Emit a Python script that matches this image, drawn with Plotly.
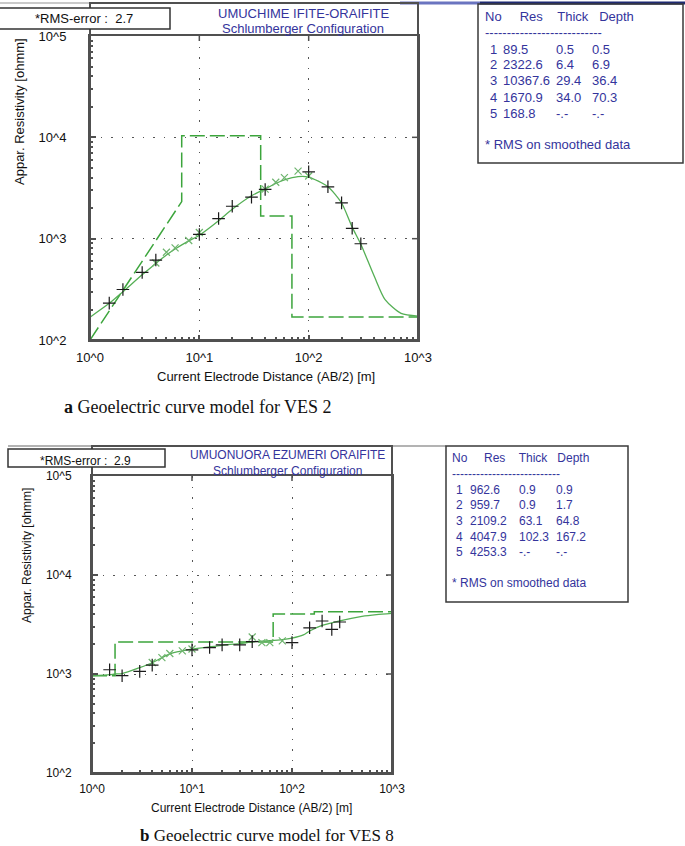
import plotly.graph_objects as go

W, H = 685, 846

# ---------------- data : panel a (VES 2) ----------------
ab2_field = [1.5, 2, 3, 4, 10, 15, 20, 30, 40, 100, 150, 200, 250, 300]
rho_field_a = [231, 315, 464, 615, 1100, 1580, 2090, 2570, 3060, 4570, 3250, 2255, 1265, 891]
ab2_smooth_a = [4, 5, 6, 8, 10, 40, 50, 60, 80, 100]
rho_smooth_a = [575, 735, 810, 960, 1150, 3080, 3600, 4000, 4640, 4150]
ab2_curve_a = [1, 1.5, 2, 3, 4, 5, 6, 8, 10, 15, 20, 30, 40, 50, 60, 80, 100, 150, 200,
               250, 300, 400, 500, 700, 1000]
rho_curve_a = [168, 230, 300, 440, 570, 690, 790, 950, 1080, 1500, 1950, 2650, 3100, 3500,
               3800, 4100, 4050, 3250, 2250, 1300, 880, 420, 250, 183, 172]
res_a = [89.5, 2322.6, 10367.6, 1670.9, 168.8]
thick_a = [0.5, 6.4, 29.4, 34.0]
depth_a = [0.5, 6.9, 36.4, 70.3]
model_start_a = (1.0, 100)
rms_a = 2.7
site_a = "UMUCHIME IFITE-ORAIFITE"

# ---------------- data : panel b (VES 8) ----------------
rho_field_b = [1104, 961, 1062, 1230, 1754, 1850, 1967, 1967, 2124, 2075, 2930, 3430, 2825, 3350]
ab2_smooth_b = [4, 5, 6, 8, 10, 40, 50, 60, 80]
rho_smooth_b = [1306, 1466, 1610, 1713, 1790, 2366, 2075, 2075, 2158]
ab2_curve_b = [1, 1.5, 1.7, 2, 3, 4, 5, 6, 8, 10, 15, 20, 30, 40, 50, 60, 80, 100, 130,
               150, 200, 300, 500, 700, 1000]
rho_curve_b = [962, 985, 1000, 1010, 1160, 1300, 1460, 1600, 1710, 1780, 1880, 1950, 2030,
               2110, 2150, 2170, 2220, 2300, 2480, 2720, 3100, 3450, 3820, 3980, 4090]
res_b = [962.6, 959.7, 2109.2, 4047.9, 4253.3]
thick_b = [0.9, 0.9, 63.1, 102.3]
depth_b = [0.9, 1.7, 64.8, 167.2]
model_start_b = (1.0, 959.7)
rms_b = 2.9
site_b = "UMUONUORA EZUMERI ORAIFITE"

x_ticks = [1, 10, 100, 1000]
x_tick_text = ["10^0", "10^1", "10^2", "10^3"]
y_ticks = [100, 1000, 10000, 100000]
y_tick_text = ["10^2", "10^3", "10^4", "10^5"]


def model_steps(res, depth, start, x_end):
    xs, ys = [start[0]], [start[1]]
    for i, d in enumerate(depth):
        if d <= start[0]:
            continue
        xs += [d, d]
        ys += [res[i], res[i + 1]]
    xs.append(x_end)
    ys.append(res[-1])
    return xs, ys


def PX(x):
    return x / W


def PY(y):
    return 1 - y / H


SANS = "Liberation Sans, Arial, sans-serif"
SERIF = "Liberation Serif, Times New Roman, serif"
BLUE = "#34349c"
FRAME = "#505050"
GREEN_D = "rgb(60,165,60)"
GREEN_S = "rgb(85,175,85)"

fig = go.Figure()

panels = [
    dict(xa="x", ya="y", field=rho_field_a, sx=ab2_smooth_a, sy=rho_smooth_a,
         cx=ab2_curve_a, cy=rho_curve_a, res=res_a, depth=depth_a, start=model_start_a),
    dict(xa="x2", ya="y2", field=rho_field_b, sx=ab2_smooth_b, sy=rho_smooth_b,
         cx=ab2_curve_b, cy=rho_curve_b, res=res_b, depth=depth_b, start=model_start_b),
]

for p in panels:
    mx, my = model_steps(p["res"], p["depth"], p["start"], 1000)
    fig.add_trace(go.Scatter(x=mx, y=my, mode="lines", xaxis=p["xa"], yaxis=p["ya"],
                             line=dict(color=GREEN_D, width=1.5, dash="15px,5px"),
                             hoverinfo="skip", showlegend=False))
    fig.add_trace(go.Scatter(x=p["cx"], y=p["cy"], mode="lines", xaxis=p["xa"], yaxis=p["ya"],
                             line=dict(color=GREEN_S, width=1.3, shape="spline", smoothing=0.7),
                             hoverinfo="skip", showlegend=False))
    fig.add_trace(go.Scatter(x=p["sx"], y=p["sy"], mode="markers", xaxis=p["xa"], yaxis=p["ya"],
                             marker=dict(symbol="x-thin", size=7,
                                         line=dict(color="rgb(110,180,110)", width=1.2)),
                             hoverinfo="skip", showlegend=False))
    fig.add_trace(go.Scatter(x=ab2_field, y=p["field"], mode="markers", xaxis=p["xa"], yaxis=p["ya"],
                             marker=dict(symbol="cross-thin", size=9,
                                         line=dict(color="#1a1a1a", width=1.2)),
                             hoverinfo="skip", showlegend=False))


def xaxis_cfg(dom, anchor, fs):
    return dict(type="log", range=[0, 3], domain=dom, anchor=anchor, automargin=False,
                tickmode="array", tickvals=x_ticks, ticktext=x_tick_text,
                tickfont=dict(family=SANS, size=fs, color="#111"),
                ticks="inside", ticklen=5, tickcolor=FRAME, tickwidth=1.5,
                ticklabelstandoff=4,
                showline=True, linecolor=FRAME, linewidth=2, mirror=True,
                showgrid=True, gridcolor="#555", gridwidth=1.2, griddash="1.5px,9px",
                minor=dict(ticks="inside", ticklen=3, tickcolor=FRAME, dtick="D1", showgrid=False),
                zeroline=False, fixedrange=True)


def yaxis_cfg(dom, anchor, fs, standoff):
    return dict(type="log", range=[2, 5], domain=dom, anchor=anchor, automargin=False,
                tickmode="array", tickvals=y_ticks, ticktext=y_tick_text,
                tickfont=dict(family=SANS, size=fs, color="#111"),
                ticks="inside", ticklen=6, tickcolor=FRAME, tickwidth=1.5,
                ticklabelstandoff=standoff,
                showline=True, linecolor=FRAME, linewidth=2, mirror=True,
                showgrid=True, gridcolor="#555", gridwidth=1.2, griddash="1.5px,9px",
                minor=dict(ticks="inside", ticklen=3, tickcolor=FRAME, dtick="D1", showgrid=False),
                zeroline=False, fixedrange=True)


fig.update_layout(
    width=W, height=H, autosize=False,
    margin=dict(l=0, r=0, t=0, b=0, pad=0),
    paper_bgcolor="white", plot_bgcolor="white",
    xaxis=xaxis_cfg([PX(90), PX(418)], "y", 13),
    yaxis=yaxis_cfg([PY(340), PY(36)], "x", 13, 19),
    xaxis2=xaxis_cfg([PX(92), PX(392)], "y2", 12),
    yaxis2=yaxis_cfg([PY(773), PY(476)], "x2", 12, 16),
)

shapes = []


def line(x0, y0, x1, y1, color, width):
    shapes.append(dict(type="line", xref="paper", yref="paper", x0=PX(x0), y0=PY(y0),
                       x1=PX(x1), y1=PY(y1), line=dict(color=color, width=width), layer="above"))


def rect(x0, y0, x1, y1, color, width, fill=None):
    shapes.append(dict(type="rect", xref="paper", yref="paper", x0=PX(x0), y0=PY(y0),
                       x1=PX(x1), y1=PY(y1), line=dict(color=color, width=width),
                       fillcolor=fill if fill else "rgba(0,0,0,0)", layer="above"))


# mirrored major ticks on the top and right edges
for xa, ya, ph, pw in (("x", "y", 304.0, 328.0), ("x2", "y2", 297.0, 300.0)):
    for v in x_ticks[1:-1]:
        shapes.append(dict(type="line", xref=xa, yref=ya + " domain", x0=v, x1=v,
                           y0=1, y1=1 - 5 / ph, line=dict(color=FRAME, width=1.5)))
    for v in y_ticks[1:-1]:
        shapes.append(dict(type="line", xref=xa + " domain", yref=ya, y0=v, y1=v,
                           x0=1, x1=1 - 6 / pw, line=dict(color=FRAME, width=1.5)))

# panel a decorations
line(0, 3, 400, 3, "#b8b8b8", 1.5)
line(400, 3, 480, 3, "#6a74c0", 3)
line(480, 3, 685, 3, "#1f2a72", 3)
rect(90, 3, 418, 340, FRAME, 2)
rect(478, 4, 683, 163, "#3a3a3a", 1.5)
rect(-3, 8, 170, 29, "#333", 1.5, "white")
# panel b decorations
line(8, 446, 446, 446, "#9a9a9a", 1.5)
rect(92, 446, 392, 773, FRAME, 2)
rect(446, 446, 628, 602, "#3a3a3a", 1.5)
rect(8, 449, 165, 467, "#333", 1.5, "white")

ann = []


def text(x, y, s, size, color="#111", anchor="left", family=SANS, angle=0):
    ann.append(dict(xref="paper", yref="paper", x=PX(x), y=PY(y), text=s, showarrow=False,
                    xanchor=anchor, yanchor="middle", textangle=angle,
                    font=dict(family=family, size=size, color=color)))


NB = "\u00a0"


def fmt(v):
    return "-.-" if v is None else f"{v:.1f}"


def table(x0, y_head, y_dash, y_row0, dy, cols, y_foot, res, thick, depth, fs):
    text(x0, y_head, f"No{NB*5}Res{NB*4}Thick{NB*3}Depth", fs, BLUE)
    text(x0, y_dash, "-" * 27, fs, BLUE)
    for i, r in enumerate(res):
        y = y_row0 + i * dy
        t = thick[i] if i < len(thick) else None
        d = depth[i] if i < len(depth) else None
        text(cols[0], y, str(i + 1), fs, BLUE)
        text(cols[1], y, fmt(r), fs, BLUE)
        text(cols[2], y, fmt(t), fs, BLUE)
        text(cols[3], y, fmt(d), fs, BLUE)
    text(x0, y_foot, "* RMS on smoothed data", fs, BLUE)


# panel a texts
text(33, 18.5, f"*RMS-error :{NB*2}{rms_a}", 13)
text(303, 13.5, site_a, 13, BLUE, "center")
text(303, 29, "Schlumberger Configuration", 13, BLUE, "center")
table(483, 17, 32, 49, 16, [488, 501, 554, 590], 145, res_a, thick_a, depth_a, 13)
text(20, 112, "Appar. Resistivity [ohmm]", 13, angle=-90, anchor="center")
text(266, 376, "Current Electrode Distance (AB/2) [m]", 13, anchor="center")
text(62, 407, "<b>a</b> Geoelectric curve model for VES 2", 18, family=SERIF)

# panel b texts
text(38, 461, f"*RMS-error :{NB*2}{rms_b}", 12)
text(287, 455, site_b, 12, BLUE, "center")
text(287, 471, "Schlumberger Configuration", 12, BLUE, "center")
table(450, 458, 474, 490, 15.5, [454, 468, 517, 554], 583, res_b, thick_b, depth_b, 12)
text(27, 556, "Appar. Resistivity [ohmm]", 12, angle=-90, anchor="center")
text(252, 808, "Current Electrode Distance (AB/2) [m]", 12, anchor="center")
text(138, 835, "<b>b</b> Geoelectric curve model for VES 8", 17, family=SERIF)

fig.update_layout(shapes=shapes, annotations=ann)
fig.write_html(
    "out.html",
    config={"displayModeBar": False},
    post_script="document.body.style.margin='0';document.body.style.overflow='hidden';",
)
